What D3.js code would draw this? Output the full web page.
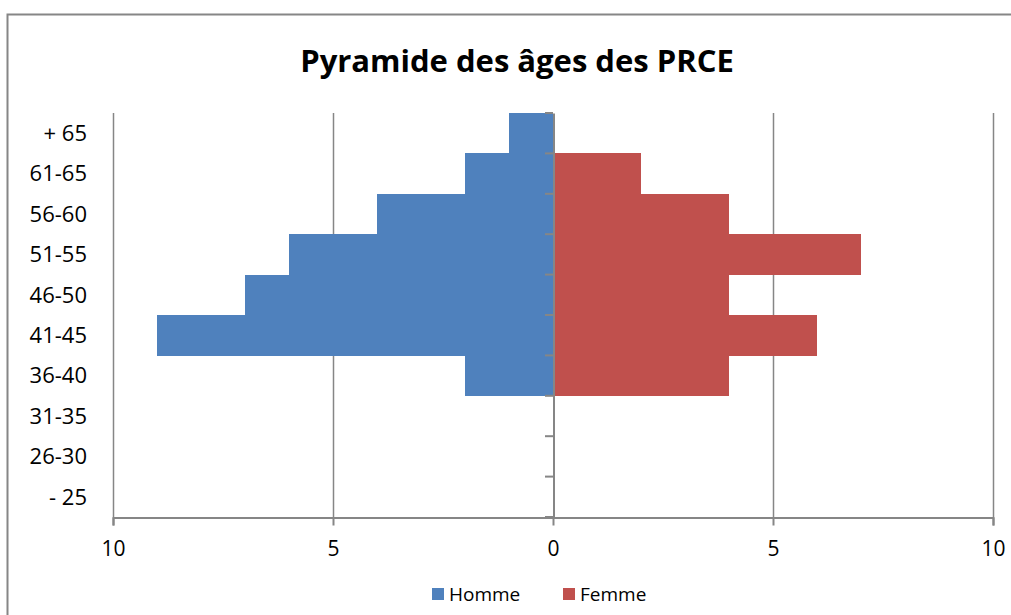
<!DOCTYPE html>
<html><head><meta charset="utf-8">
<script src="https://cdn.jsdelivr.net/npm/d3@7"></script>
<style>body{margin:0;background:#fff;} text{font-family:"Open Sans","Noto Sans",sans-serif;}</style>
</head><body>
<svg id="c" width="1011" height="615"></svg>
<script>
const categories = ["+ 65","61-65","56-60","51-55","46-50","41-45","36-40","31-35","26-30","- 25"];
const homme = [1,2,4,6,7,9,2,0,0,0];
const femme = [0,2,4,7,4,6,4,0,0,0];
const xTicks = [-10,-5,0,5,10];
const seriesNames = ["Homme","Femme"];
const colors = ["#4F81BD","#C0504D"];

const svg = d3.select("#c");
const W = 1011, H = 615;
const L = 113, R = 993, T = 113, B = 517;

svg.append("rect").attr("x",0).attr("y",0).attr("width",W).attr("height",H).attr("fill","#fff");
// frame
svg.append("path").attr("d",`M7.5,${H} V14.5 H${W}`).attr("fill","none").attr("stroke","#868686").attr("stroke-width",2);

svg.append("text").attr("x",517).attr("y",72).attr("text-anchor","middle")
  .attr("font-size",31).attr("font-weight","bold").attr("fill","#000").text("Pyramide des âges des PRCE");

const x = d3.scaleLinear().domain([-10,10]).range([L,R]);
const y = d3.scaleBand().domain(categories).range([T,B]).padding(0);

// gridlines
svg.append("g").selectAll("line").data(xTicks.filter(d=>d!==0)).join("line")
  .attr("x1",d=>x(d)+0.5).attr("x2",d=>x(d)+0.5).attr("y1",T).attr("y2",B)
  .attr("stroke","#868686").attr("stroke-width",1.5);

// bars
svg.append("g").attr("shape-rendering","crispEdges").selectAll("rect").data(categories.map((c,i)=>({c,v:homme[i]}))).join("rect")
  .attr("x",d=>x(-d.v)).attr("width",d=>x(0)-x(-d.v)).attr("y",d=>y(d.c)).attr("height",y.bandwidth()+0.6)
  .attr("fill",colors[0]);
svg.append("g").attr("shape-rendering","crispEdges").selectAll("rect").data(categories.map((c,i)=>({c,v:femme[i]}))).join("rect")
  .attr("x",x(0)).attr("width",d=>x(d.v)-x(0)).attr("y",d=>y(d.c)).attr("height",y.bandwidth()+0.6)
  .attr("fill",colors[1]);

// x axis
const xa = svg.append("g").attr("transform",`translate(0,${B+0.5})`)
  .call(d3.axisBottom(x).tickValues(xTicks).tickFormat(d=>Math.abs(d)).tickSize(8).tickPadding(16));
xa.select(".domain").attr("stroke","#868686").attr("stroke-width",2);
xa.selectAll(".tick line").attr("stroke","#868686").attr("stroke-width",2);
xa.selectAll("text").attr("font-size",21).attr("fill","#000").attr("font-family","Open Sans");

// center axis with category ticks
const ya = svg.append("g").attr("transform",`translate(${x(0)+0.5},0)`)
  .call(d3.axisLeft(y).tickSize(0).tickFormat(""));
ya.select(".domain").attr("stroke","#868686").attr("stroke-width",2);
const bounds = d3.range(categories.length+1).map(i=>T + i*y.step());
svg.append("g").selectAll("line").data(bounds).join("line")
  .attr("x1",x(0)-8).attr("x2",x(0)).attr("y1",d=>d).attr("y2",d=>d)
  .attr("stroke","#868686").attr("stroke-width",2);

// category labels
svg.append("g").selectAll("text").data(categories).join("text")
  .attr("x",87).attr("y",d=>y(d)+y.bandwidth()/2).attr("dy","0.35em")
  .attr("text-anchor","end").attr("font-size",22).attr("fill","#000").text(d=>d);

// legend
const lg = svg.append("g");
const lx = [432,563];
seriesNames.forEach((n,i)=>{
  lg.append("rect").attr("x",lx[i]).attr("y",588).attr("width",12).attr("height",12).attr("fill",colors[i]);
  lg.append("text").attr("x",lx[i]+17).attr("y",594).attr("dy","0.35em").attr("font-size",19).attr("fill","#000").text(n);
});
</script>
</body></html>
